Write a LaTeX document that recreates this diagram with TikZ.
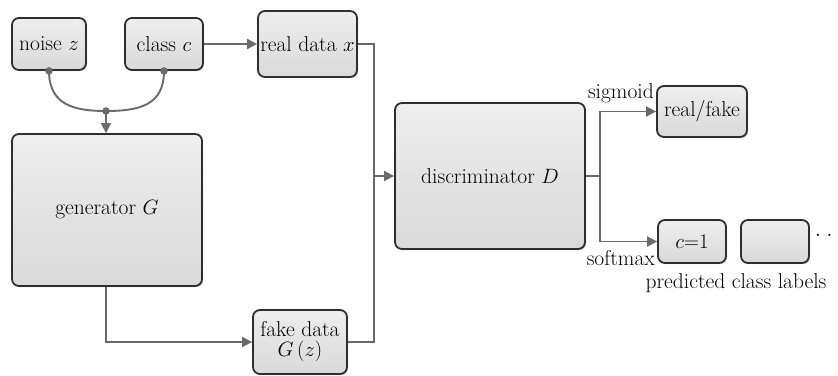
\documentclass[tikz,border=0pt]{standalone}
\usetikzlibrary{arrows.meta,shadows}
\definecolor{boxtop}{HTML}{EEEEEE}
\definecolor{boxbot}{HTML}{D9D9D9}
\definecolor{boxline}{HTML}{2E2E2E}
\definecolor{wire}{HTML}{6A6A6A}
\tikzset{
  block/.style={draw=boxline, line width=1.8pt, rounded corners=7pt,
    top color=boxtop, bottom color=boxbot, align=center, inner sep=1pt,
    drop shadow={shadow xshift=1.2pt, shadow yshift=-1.2pt, opacity=0.18, fill=black}},
  wireline/.style={draw=wire, line width=1.9pt},
  wirearrow/.style={wireline, -{Triangle[length=10pt,width=10pt]}},
  dotend/.style={circle, fill=wire, inner sep=0pt, minimum size=7.5pt},
  lbl/.style={inner sep=0pt}
}
\begin{document}
\begin{tikzpicture}[x=1pt, y=-1pt, font=\fontsize{21.5}{24}\selectfont]
\useasboundingbox (0,0) rectangle (838,375);

% input and data blocks
\node[block, minimum width=74pt, minimum height=52pt] (noise) at (49,44) {noise $z$};
\node[block, minimum width=78pt, minimum height=52pt] (class) at (164,44) {class $c$};
\node[block, minimum width=99pt, minimum height=66pt] (real) at (307.5,44) {real data $x$};
\node[block, minimum width=190pt, minimum height=152pt] (gen) at (107,210) {generator $G$};
\node[block, minimum width=94pt, minimum height=64pt] (fake) at (300,342) {fake data\\[-4pt]$G\left(z\right)$};
\node[block, minimum width=190pt, minimum height=146pt] (disc) at (490,176) {discriminator $D$};

% output blocks
\node[block, minimum width=90pt, minimum height=51pt] (rf) at (702,111.5) {real/fake};
\node[block, minimum width=68pt, minimum height=43pt] (c2) at (775,241.5) {};
\node[block, minimum width=68pt, minimum height=43pt] (c1) at (692,241.5) {$c{=}1$};
\node[lbl, anchor=west] (more) at (815,236) {$\cdot\;\cdot$};

% labels
\node[lbl, anchor=south east] (sig) at (654,103) {sigmoid};
\node[lbl, anchor=north east] (soft) at (655,250) {softmax};
\node[lbl, anchor=north] (pred) at (736,273) {predicted class labels};

% merging noise and class
\coordinate (join) at (106,111);
\node[dotend] (nd) at (noise.south) {};
\node[dotend] (cd) at (class.south) {};
\node[dotend] (jd) at (join) {};
\draw[wireline] (nd.center) .. controls ++(0,34) and ++(-32,0) .. (jd.center)
  .. controls ++(34,0) and ++(0,34) .. (cd.center);
\draw[wirearrow] (jd.center) -- (gen.north -| jd);

% data flow
\draw[wirearrow] (class.east) -- (real.west);
\draw[wirearrow] (gen.south -| jd) |- (fake.west);
\coordinate (merge) at (374,176);
\draw[wireline] (real.east) -| (merge);
\draw[wireline] (fake.east) -| (merge);
\draw[wirearrow] (merge) -- (disc.west);

% discriminator heads
\coordinate (split) at (600,176);
\draw[wireline] (disc.east) -- (split);
\draw[wirearrow] (split) |- (rf.west);
\draw[wirearrow] (split) |- (c1.west);
\end{tikzpicture}
\end{document}
